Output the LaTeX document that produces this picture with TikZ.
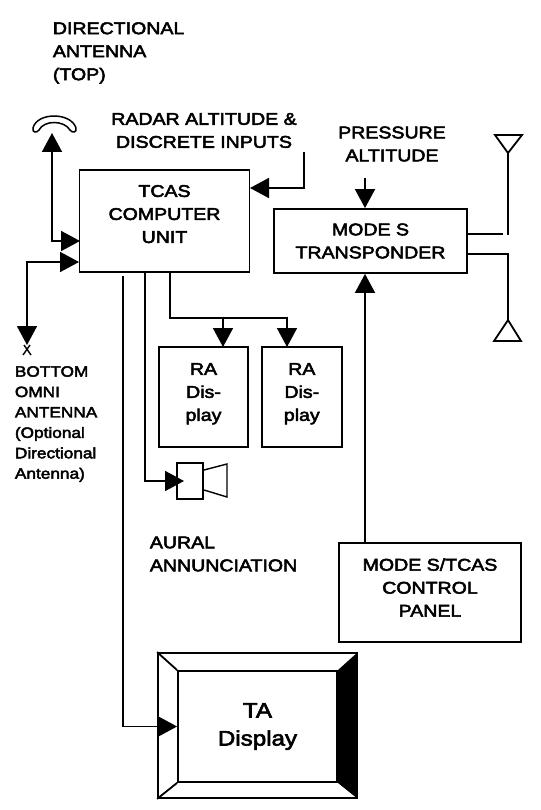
\documentclass[tikz,border=0pt]{standalone}
\usepackage{fontspec}
\setmainfont[FakeStretch=1.15,FakeBold=3]{Liberation Sans}
\usetikzlibrary{positioning,arrows.meta}
\newcommand{\bodyfont}{\fontsize{17}{23}\selectfont}
\newcommand{\smallfont}{\fontsize{15}{20.4}\selectfont}
\tikzset{
  >={Triangle[length=19pt,width=20pt]},
}

\begin{document}
\begin{tikzpicture}[
  x=1pt,y=-1pt,
  line width=1.8pt,
  box/.style={draw, inner sep=0pt, align=center, font=\bodyfont},
  tag/.style={inner sep=0pt, font=\bodyfont}
]
\useasboundingbox (0,0) rectangle (540,810);

\node[box, minimum width=170pt, minimum height=102pt] (tcas) at (164.5,221) {TCAS\\COMPUTER\\UNIT\\[-9pt]};
\node[box, minimum width=193pt, minimum height=64pt] (modes) at (370.5,241) {MODE S\\TRANSPONDER};
\node[box, minimum width=89pt, minimum height=100pt] (ra1) at (203.5,397) {RA\\Dis-\\play\\[-13pt]};
\node[box, minimum width=80pt, minimum height=100pt, right=12pt of ra1] (ra2) {RA\\Dis-\\play\\[-13pt]};
\node[box, minimum width=182pt, minimum height=99pt] (panel) at (430,592.5) {MODE S/TCAS\\CONTROL\\PANEL\\[-13pt]};
\node[box, minimum width=199pt, minimum height=145pt] (taouter) at (257.5,725.5) {};
\node[box, minimum width=159pt, minimum height=111pt, font=\fontsize{21}{28}\selectfont] (ta) at (257.5,726.5) {TA\\Display};

% labels
\node[tag, align=left, anchor=west] (dirlabel) at (52,53) {DIRECTIONAL\\ANTENNA\\(TOP)};
\node[tag, align=center] (radarlabel) at (204,130.5) {RADAR ALTITUDE \&\\DISCRETE INPUTS};
\node[tag, align=center] (preslabel) at (392,144) {PRESSURE\\ALTITUDE};
\node[tag, align=left, anchor=west, font=\smallfont] (botlabel) at (14,424) {BOTTOM\\OMNI\\ANTENNA\\(Optional\\Directional\\Antenna)};
\node[tag, align=left, anchor=west] (aurallabel) at (149,554) {AURAL\\ANNUNCIATION};

% antennas
\draw[line width=1.5pt] (33,128) .. controls (37,112) and (71,112) .. (76,128) .. controls (77,133) and (72,133) .. (70,130)
  .. controls (64,120) and (44,120) .. (39,130) .. controls (37,133) and (32,133) .. (33,128) -- cycle;
\coordinate (topant) at (52,133);
\draw (495,135) -- (522,135) -- (508,153) -- cycle;
\coordinate (upant) at (508,153);
\draw (494,341) -- (521,341) -- (508,320) -- cycle;
\coordinate (downant) at (508,320);
\coordinate (botant) at (27,345);
\draw[line width=1.4pt] (23,355) -- (30,345) (31,355) -- (24,345);

% speaker
\node[draw, minimum width=26pt, minimum height=36pt, inner sep=0pt] (spk) at (190,481) {};
\draw[line width=1.4pt] (204,470) -- (227,464) -- (227,497) -- (204,490);

% connectors
\coordinate (tcasa) at (80,241);
\coordinate (tcasb) at (79,262);
\coordinate (tcasc) at (250,188);
\coordinate (radar) at (304,152);
\coordinate (pres) at (365,178);
\coordinate (outa) at (467,234);
\coordinate (outb) at (467,254);
\coordinate (aa) at (123,276);
\coordinate (bb) at (145,272);
\coordinate (cc) at (170,272);
\coordinate (drop) at (170,318);
\coordinate (tipa) at (223,347);
\coordinate (tipb) at (287,347);
\draw[<->] (topant) |- (tcasa);
\draw[<->] (botant) |- (tcasb);
\draw[->] (radar) |- (tcasc);
\draw[->] (pres) -- (modes.north -| pres);
\draw[->] (panel.north -| pres) -- (modes.south -| pres);
\draw (outa) -- (503,234);
\draw (upant) -- (508,235);
\draw (outb) -| (downant);
\draw[->] (aa) |- (ta.west);
\draw[->] (bb) |- (184,481);
\draw[->] (cc) |- (tipb |- drop) -- (tipb);
\draw[->] (tipa |- drop) -- (tipa);

% ta display bezel
\draw (taouter.north west) -- (ta.north west);
\draw (taouter.south west) -- (ta.south west);
\fill (taouter.north east) -- (taouter.south east) -- (ta.south east) -- (ta.north east) -- cycle;
\end{tikzpicture}
\end{document}
